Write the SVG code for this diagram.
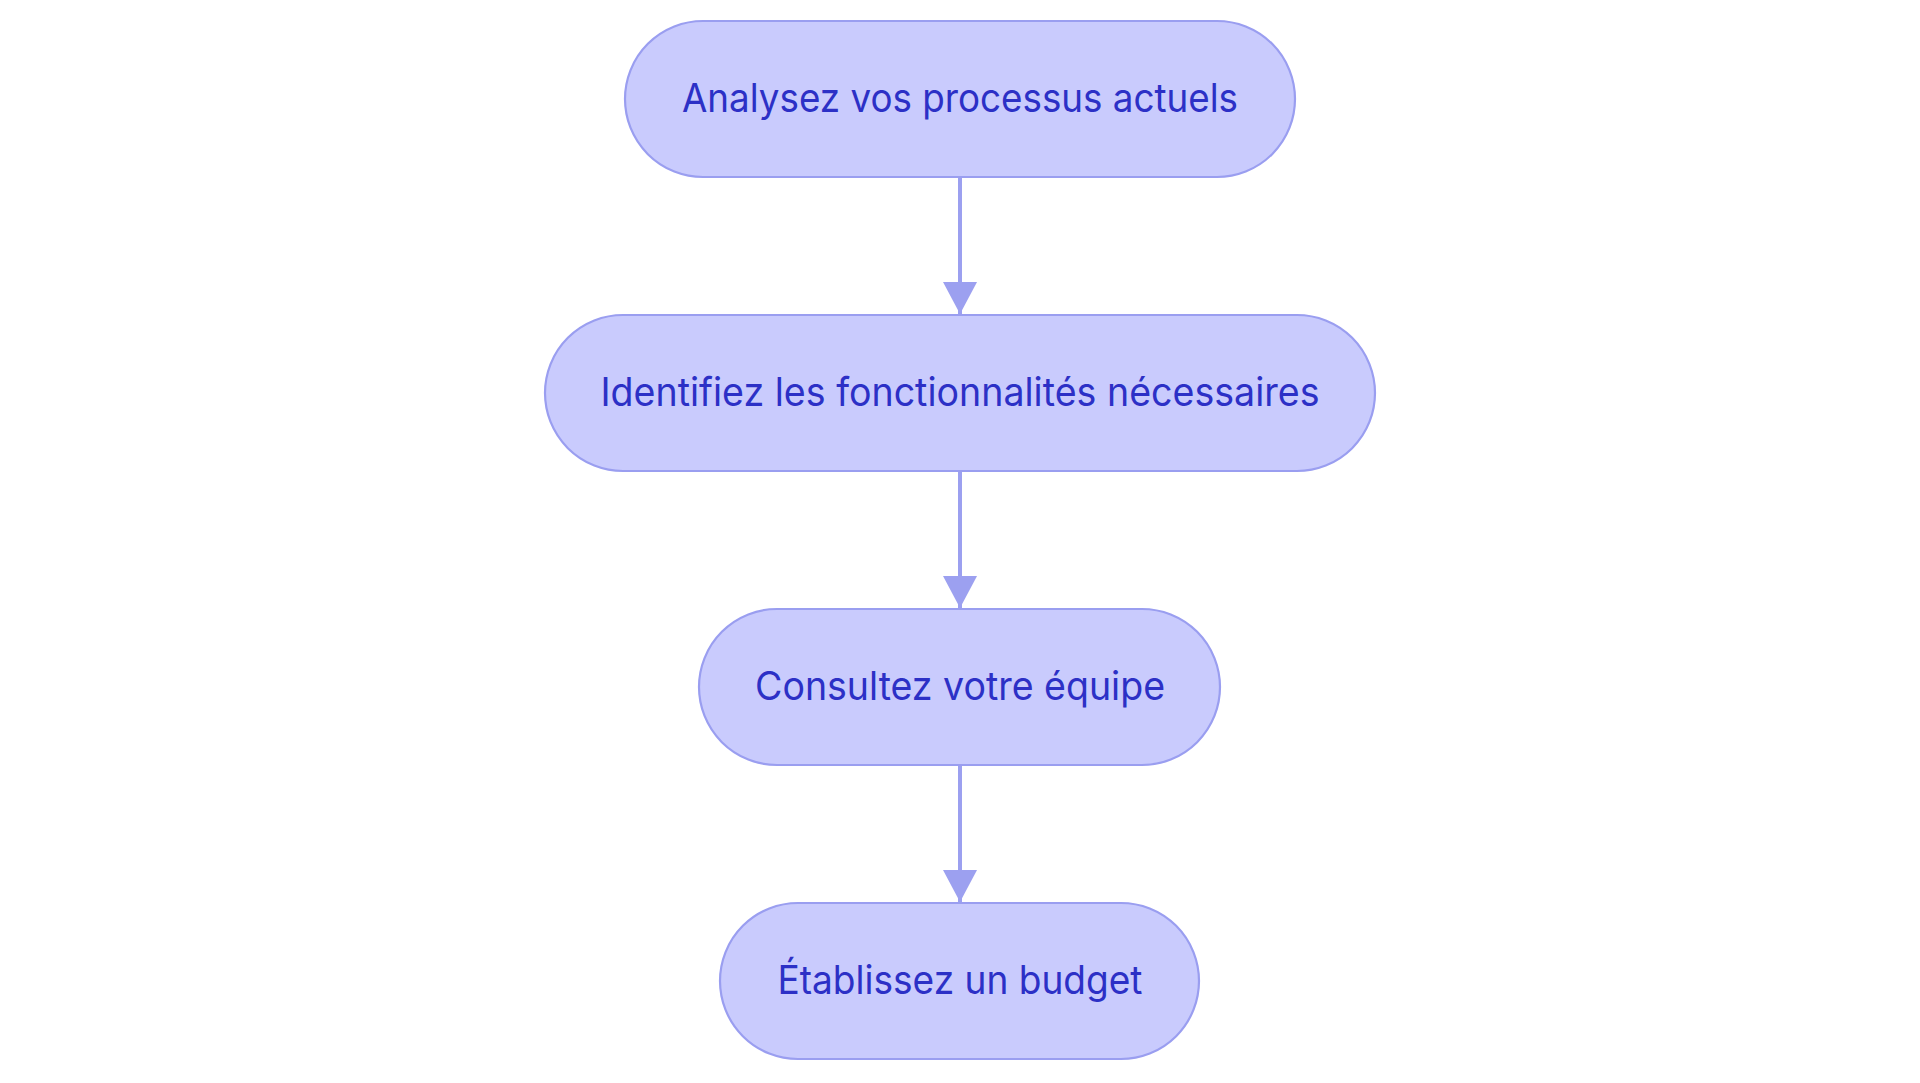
<svg xmlns="http://www.w3.org/2000/svg" width="1920" height="1083" viewBox="0 0 1920 1083">
<style>
.node rect{fill:#c9cbfd;stroke:#9a9ef0;stroke-width:2.2}
.node text{font-family:Inter,"Noto Sans","Liberation Sans",sans-serif;font-size:39px;fill:#2c30c6;text-anchor:middle}
.edge{stroke:#9ca0f0;stroke-width:4;fill:none}
</style>
<defs>
<marker id="arrow" markerUnits="userSpaceOnUse" markerWidth="34" markerHeight="34" refX="32" refY="17" orient="auto" viewBox="0 0 32 34">
<path d="M0,0 L32,17 L0,34 z" fill="#9ca0f0"/>
</marker>
</defs>
<rect width="1920" height="1083" fill="#ffffff"/>
<g id="connectors">
<line class="edge" x1="960" y1="178" x2="960" y2="314" marker-end="url(#arrow)"/>
<line class="edge" x1="960" y1="471" x2="960" y2="608" marker-end="url(#arrow)"/>
<line class="edge" x1="960" y1="765" x2="960" y2="902" marker-end="url(#arrow)"/>
</g>
<g id="node1" class="node">
<rect x="625" y="21" width="670" height="156" rx="78" ry="78"/>
<text x="960" y="111.5" textLength="556" lengthAdjust="spacingAndGlyphs">Analysez vos processus actuels</text>
</g>
<g id="node2" class="node">
<rect x="545" y="315" width="830" height="156" rx="78" ry="78"/>
<text x="960" y="405.5" textLength="719" lengthAdjust="spacingAndGlyphs">Identifiez les fonctionnalités nécessaires</text>
</g>
<g id="node3" class="node">
<rect x="699" y="609" width="521" height="156" rx="78" ry="78"/>
<text x="960" y="699.5" textLength="410" lengthAdjust="spacingAndGlyphs">Consultez votre équipe</text>
</g>
<g id="node4" class="node">
<rect x="720" y="903" width="479" height="156" rx="78" ry="78"/>
<text x="960" y="993.5" textLength="365" lengthAdjust="spacingAndGlyphs">Établissez un budget</text>
</g>
</svg>
